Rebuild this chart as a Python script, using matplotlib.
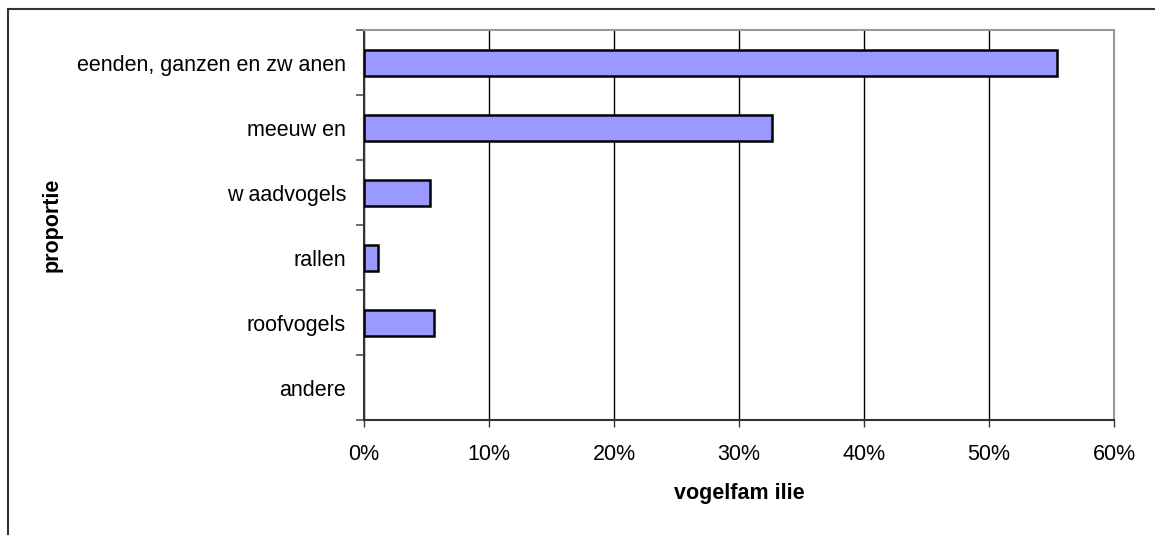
import numpy as np
import matplotlib
matplotlib.use('Agg')
import matplotlib.pyplot as plt
from matplotlib.lines import Line2D
from matplotlib.ticker import FuncFormatter, FixedLocator

# bird family shares (fraction of total)
families = ['eenden, ganzen en zw anen', 'meeuw en', 'w aadvogels',
            'rallen', 'roofvogels', 'andere']
shares = [0.554, 0.326, 0.053, 0.011, 0.056, 0.0]
xticks = [0.0, 0.1, 0.2, 0.3, 0.4, 0.5, 0.6]

plt.rcParams['font.family'] = ['Liberation Sans', 'DejaVu Sans']
FS = 15.5

fig = plt.figure(figsize=(11.55, 5.35), dpi=100)
ax = fig.add_axes([364 / 1155, 1 - 420 / 535, 750 / 1155, 390 / 535])

ypos = np.arange(len(families))
# empty categories get no outline
edges = [1.8 if s > 0 else 0 for s in shares]
ax.barh(ypos, shares, height=0.4, color='#9999ff',
        edgecolor='black', linewidth=edges, zorder=3)

ax.set_xlim(0, 0.6)
ax.set_ylim(len(families) - 0.5, -0.5)

# x axis: percent ticks + vertical grid
ax.xaxis.set_major_locator(FixedLocator(xticks))
ax.xaxis.set_major_formatter(FuncFormatter(lambda v, p: '%d%%' % round(v * 100)))
ax.grid(axis='x', color='black', linewidth=1.0, zorder=0)
ax.tick_params(axis='x', direction='out', length=5, width=1, color='#333333',
               labelsize=FS, pad=12)

# y axis: labels at category centres, tick marks at boundaries
ax.set_yticks(ypos)
ax.set_yticklabels(families)
ax.set_yticks(np.arange(-0.5, len(families)), minor=True)
ax.tick_params(axis='y', which='major', length=0, labelsize=FS, pad=13)
ax.tick_params(axis='y', which='minor', direction='out', length=6, width=1.2,
               color='#555555')

for side in ['top', 'right']:
    ax.spines[side].set_color('#999999')
    ax.spines[side].set_linewidth(1.5)
for side in ['left', 'bottom']:
    ax.spines[side].set_color('#333333')
    ax.spines[side].set_linewidth(1.5)

ax.set_xlabel('vogelfam ilie', fontsize=FS, fontweight='bold', labelpad=13)
ax.set_ylabel('proportie', fontsize=FS, fontweight='bold')
ax.yaxis.set_label_coords(-0.402, 0.5)

# outer chart frame (left and top edges only visible)
fig.add_artist(Line2D([8 / 1155, 8 / 1155], [0, 1 - 9 / 535],
                      transform=fig.transFigure, color='#333333', linewidth=1.5))
fig.add_artist(Line2D([8 / 1155, 1], [1 - 9 / 535, 1 - 9 / 535],
                      transform=fig.transFigure, color='#333333', linewidth=1.5))

fig.savefig('out.png', dpi=100)
